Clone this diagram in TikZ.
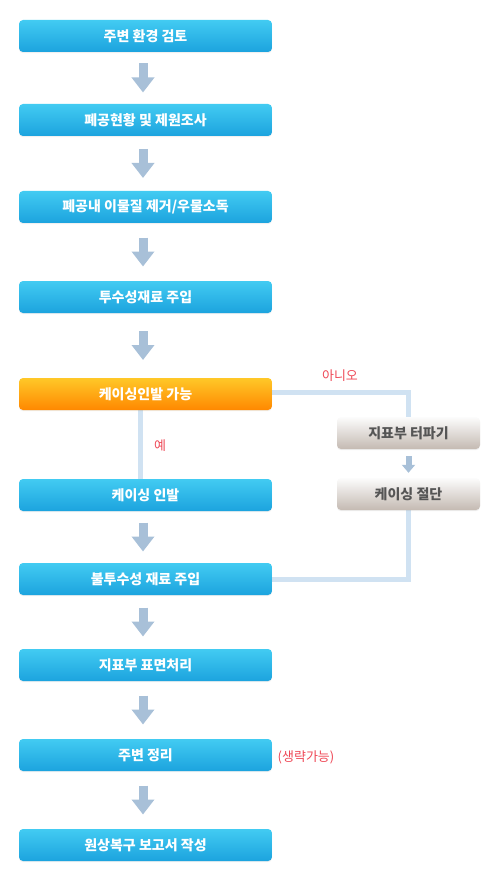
\documentclass[tikz,border=0pt]{standalone}
\usepackage{fontspec}
\setmainfont{Noto Sans CJK KR}
\usetikzlibrary{arrows.meta,shadows,calc}
\definecolor{bluetop}{RGB}{66,203,242}
\definecolor{bluebot}{RGB}{28,163,222}
\definecolor{orgtop}{RGB}{255,200,40}
\definecolor{orgbot}{RGB}{255,136,0}
\definecolor{graytop}{RGB}{252,252,252}
\definecolor{graybot}{RGB}{196,186,178}
\definecolor{arrowc}{RGB}{168,192,216}
\definecolor{linec}{RGB}{208,226,242}
\definecolor{labred}{RGB}{238,72,86}
\definecolor{graytext}{RGB}{85,85,85}
\tikzset{
  boxbase/.style={rounded corners=4pt, minimum height=32pt, inner sep=0pt,
    font=\bfseries\fontsize{14}{14}\selectfont,
    drop shadow={opacity=0.12, shadow xshift=0pt, shadow yshift=-1.2pt}},
  bluebox/.style={boxbase, top color=bluetop, bottom color=bluebot, minimum width=253pt, text=white},
  orangebox/.style={boxbase, top color=orgtop, bottom color=orgbot, minimum width=253pt, text=white},
  graybox/.style={boxbase, top color=graytop, bottom color=graybot, minimum width=143pt, text=graytext},
  blockarrow/.style={draw=arrowc, line width=9pt, -{Triangle[width=22pt,length=15pt]}},
  smallarrow/.style={draw=arrowc, line width=6pt, -{Triangle[width=13pt,length=8pt]}},
  connline/.style={draw=linec, line width=5pt},
  lab/.style={text=labred, font=\fontsize{13}{13}\selectfont, inner sep=0pt}
}
\begin{document}
\begin{tikzpicture}[x=1pt,y=-1pt]
\useasboundingbox (0,0) rectangle (496,885);
% connector lines first (behind boxes)
\coordinate (lA) at (272,392);
\coordinate (lB) at (408.5,392);
\coordinate (lC) at (408.5,417);
\coordinate (lD) at (408.5,510);
\coordinate (lE) at (408.5,579);
\coordinate (lF) at (272,579);
\coordinate (lG) at (140.5,410);
\coordinate (lH) at (140.5,479);
\draw[connline] (lA) -- (lB) -- (lC);
\draw[connline] (lD) -- (lE) -- (lF);
\draw[connline] (lG) -- (lH);

\node[bluebox] (b1) at (145.5,36) {주변 환경 검토};
\node[bluebox] (b2) at (145.5,120) {폐공현황 및 제원조사};
\node[bluebox] (b3) at (145.5,207) {폐공내 이물질 제거/우물소독};
\node[bluebox] (b4) at (145.5,297) {투수성재료 주입};
\node[orangebox] (o1) at (145.5,394) {케이싱인발 가능};
\node[bluebox] (b5) at (145.5,495) {케이싱 인발};
\node[bluebox] (b6) at (145.5,579) {불투수성 재료 주입};
\node[bluebox] (b7) at (145.5,665) {지표부 표면처리};
\node[bluebox] (b8) at (145.5,755) {주변 정리};
\node[bluebox] (b9) at (145.5,845) {원상복구 보고서 작성};
\node[graybox] (g1) at (408.5,433) {지표부 터파기};
\node[graybox] (g2) at (408.5,494) {케이싱 절단};

\foreach \a/\b in {b1/b2,b2/b3,b3/b4,b4/o1,b5/b6,b6/b7,b7/b8,b8/b9}{
  \coordinate (m) at ($(\a.south)!0.5!(\b.north)$);
  \draw[blockarrow] ([xshift=-2.5pt,yshift=14.5pt]m) -- ([xshift=-2.5pt,yshift=-14.5pt]m);
}
\draw[smallarrow] ([yshift=-7pt]g1.south) -- ([yshift=5pt]g2.north);

\node[lab] (no) at (340,376) {아니오};
\node[lab] (yes) at (160,446) {예};
\node[lab] (opt) at (306,757) {(생략가능)};
\end{tikzpicture}
\end{document}
